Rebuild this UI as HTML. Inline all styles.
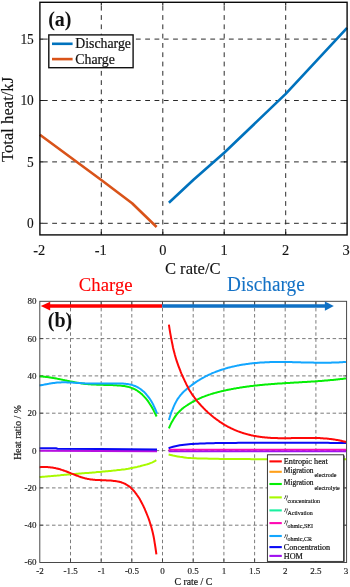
<!DOCTYPE html>
<html><head><meta charset="utf-8"><title>Heat figure</title>
<style>
html,body{margin:0;padding:0;background:#fff;}
body{width:350px;height:587px;overflow:hidden;}
svg{display:block;}
text{font-family:"Liberation Serif","Times New Roman",serif;}
.t14{font-size:14.4px;fill:#111;stroke:#111;stroke-width:0.12px;}
.t16{font-size:16.6px;fill:#111;stroke:#111;stroke-width:0.12px;}
.t9{font-size:9px;fill:#1a1a1a;stroke:#1a1a1a;stroke-width:0.15px;}
.t8{font-size:8.2px;fill:#111;stroke:#111;stroke-width:0.2px;}
.t6{font-size:6px;fill:#111;stroke:#111;stroke-width:0.15px;}
</style></head><body>
<svg width="350" height="587" viewBox="0 0 350 587">
<rect width="350" height="587" fill="#fff"/>

<g fill="none" stroke="#2a2a2a" stroke-width="1" stroke-dasharray="4.8 4.5" stroke-dashoffset="-3">
<path d="M101.3 2.8 V234.9"/>
<path d="M162.8 2.8 V234.9"/>
<path d="M224.2 2.8 V234.9"/>
<path d="M285.7 2.8 V234.9"/>
<path d="M39.9 223.3 H347.1"/>
<path d="M39.9 161.9 H347.1"/>
<path d="M39.9 100.5 H347.1"/>
<path d="M39.9 39.1 H347.1"/>
</g>
<g fill="none" stroke="#1a1a1a" stroke-width="1.1">
<path d="M101.3 2.3 v3.2 M101.3 234.9 v-3.2"/>
<path d="M162.8 2.3 v3.2 M162.8 234.9 v-3.2"/>
<path d="M224.2 2.3 v3.2 M224.2 234.9 v-3.2"/>
<path d="M285.7 2.3 v3.2 M285.7 234.9 v-3.2"/>
<path d="M39.9 223.3 h3.2 M347.1 223.3 h-3.2"/>
<path d="M39.9 161.9 h3.2 M347.1 161.9 h-3.2"/>
<path d="M39.9 100.5 h3.2 M347.1 100.5 h-3.2"/>
<path d="M39.9 39.1 h3.2 M347.1 39.1 h-3.2"/>
</g>
<path d="M168.9 202.8 L193.5 179.7 L224.2 152.8 L285.7 93.9 L347.1 27.8" fill="none" stroke="#0072BD" stroke-width="2.6" stroke-linejoin="round"/>
<path d="M39.9 134.8 L101.3 180.0 L132.1 203.2 L156.6 227.0" fill="none" stroke="#D95319" stroke-width="2.6" stroke-linejoin="round"/>
<rect x="39.9" y="2.3" width="307.2" height="232.6" fill="none" stroke="#0a0a0a" stroke-width="1.4"/>
<text class="t14" x="33.8" y="228.1" textLength="6.7" lengthAdjust="spacingAndGlyphs" text-anchor="end">0</text>
<text class="t14" x="33.8" y="166.7" textLength="6.7" lengthAdjust="spacingAndGlyphs" text-anchor="end">5</text>
<text class="t14" x="33.8" y="105.3" textLength="13.4" lengthAdjust="spacingAndGlyphs" text-anchor="end">10</text>
<text class="t14" x="33.8" y="43.9" textLength="13.4" lengthAdjust="spacingAndGlyphs" text-anchor="end">15</text>
<text class="t14" x="39.3" y="255" text-anchor="middle">-2</text>
<text class="t14" x="100.7" y="255" text-anchor="middle">-1</text>
<text class="t14" x="162.8" y="255" text-anchor="middle">0</text>
<text class="t14" x="224.2" y="255" text-anchor="middle">1</text>
<text class="t14" x="285.7" y="255" text-anchor="middle">2</text>
<text class="t14" x="346.1" y="255" text-anchor="middle">3</text>
<text class="t16" x="192.8" y="274.2" text-anchor="middle">C rate/C</text>
<text class="t16" transform="translate(13.2 119.4) rotate(-90)" text-anchor="middle">Total heat/kJ</text>
<text x="48.2" y="26.2" style="font-size:20px;font-weight:bold;fill:#111;">(a)</text>
<rect x="48.8" y="34.9" width="84.3" height="32.8" fill="#fff" stroke="#111" stroke-width="1.4"/>
<path d="M52 43.8 H72.6" stroke="#0072BD" stroke-width="2.6"/>
<path d="M52 59.1 H72.6" stroke="#D95319" stroke-width="2.6"/>
<text x="75.3" y="48.4" style="font-size:13.8px;fill:#111;stroke:#111;stroke-width:0.2px;">Discharge</text>
<text x="75.3" y="63.7" style="font-size:13.8px;fill:#111;stroke:#111;stroke-width:0.2px;">Charge</text>
<text x="78.8" y="291.3" textLength="53.8" lengthAdjust="spacingAndGlyphs" style="font-size:19.8px;fill:#ff0000;stroke:#ff0000;stroke-width:0.1px;">Charge</text>
<text x="227.1" y="291.2" textLength="77.6" lengthAdjust="spacingAndGlyphs" style="font-size:20px;fill:#1472c6;stroke:#1472c6;stroke-width:0.1px;">Discharge</text>
<g fill="none" stroke="#505050" stroke-width="0.75" stroke-dasharray="3.5 2.6">
<path d="M70.5 301.8 V562.5"/>
<path d="M101.2 301.8 V562.5"/>
<path d="M131.8 301.8 V562.5"/>
<path d="M162.5 301.8 V562.5"/>
<path d="M193.2 301.8 V562.5"/>
<path d="M223.9 301.8 V562.5"/>
<path d="M254.6 301.8 V562.5"/>
<path d="M285.2 301.8 V562.5"/>
<path d="M315.9 301.8 V562.5"/>
<path d="M39.8 525.2 H346.6"/>
<path d="M39.8 487.9 H346.6"/>
<path d="M39.8 450.6 H346.6"/>
<path d="M39.8 413.2 H346.6"/>
<path d="M39.8 375.9 H346.6"/>
<path d="M39.8 338.6 H346.6"/>
</g>
<g fill="none" stroke="#333" stroke-width="0.8">
<path d="M70.5 301.3 v3.5 M70.5 562.5 v-3.5"/>
<path d="M101.2 301.3 v3.5 M101.2 562.5 v-3.5"/>
<path d="M131.8 301.3 v3.5 M131.8 562.5 v-3.5"/>
<path d="M162.5 301.3 v3.5 M162.5 562.5 v-3.5"/>
<path d="M193.2 301.3 v3.5 M193.2 562.5 v-3.5"/>
<path d="M223.9 301.3 v3.5 M223.9 562.5 v-3.5"/>
<path d="M254.6 301.3 v3.5 M254.6 562.5 v-3.5"/>
<path d="M285.2 301.3 v3.5 M285.2 562.5 v-3.5"/>
<path d="M315.9 301.3 v3.5 M315.9 562.5 v-3.5"/>
<path d="M39.8 525.2 h3.5 M346.6 525.2 h-3.5"/>
<path d="M39.8 487.9 h3.5 M346.6 487.9 h-3.5"/>
<path d="M39.8 450.6 h3.5 M346.6 450.6 h-3.5"/>
<path d="M39.8 413.2 h3.5 M346.6 413.2 h-3.5"/>
<path d="M39.8 375.9 h3.5 M346.6 375.9 h-3.5"/>
<path d="M39.8 338.6 h3.5 M346.6 338.6 h-3.5"/>
</g>
<path d="M39.5 376.4 L40.3 376.4 L41.1 376.5 L41.9 376.5 L42.6 376.6 L43.4 376.7 L44.2 376.7 L45.0 376.8 L45.8 376.9 L46.6 377.0 L47.4 377.1 L48.1 377.2 L48.9 377.3 L49.7 377.4 L50.5 377.5 L51.3 377.7 L52.1 377.8 L52.9 377.9 L53.6 378.1 L54.4 378.2 L55.2 378.3 L56.0 378.5 L56.8 378.6 L57.6 378.8 L58.4 378.9 L59.1 379.1 L59.9 379.2 L60.7 379.4 L61.5 379.6 L62.3 379.7 L63.1 379.9 L63.9 380.1 L64.6 380.2 L65.4 380.4 L66.2 380.5 L67.0 380.7 L67.8 380.9 L68.6 381.0 L69.4 381.2 L70.2 381.4 L70.9 381.5 L71.7 381.7 L72.5 381.8 L73.3 382.0 L74.1 382.1 L74.9 382.3 L75.7 382.4 L76.4 382.6 L77.2 382.7 L78.0 382.8 L78.8 383.0 L79.6 383.1 L80.4 383.2 L81.2 383.3 L81.9 383.5 L82.7 383.6 L83.5 383.7 L84.3 383.8 L85.1 383.9 L85.9 383.9 L86.7 384.0 L87.4 384.1 L88.2 384.2 L89.0 384.2 L89.8 384.3 L90.6 384.3 L91.4 384.4 L92.2 384.4 L92.9 384.5 L93.7 384.5 L94.5 384.6 L95.3 384.6 L96.1 384.6 L96.9 384.7 L97.7 384.7 L98.4 384.7 L99.2 384.7 L100.0 384.8 L100.8 384.8 L101.6 384.8 L102.4 384.8 L103.2 384.8 L103.9 384.9 L104.7 384.9 L105.5 384.9 L106.3 384.9 L107.1 384.9 L107.9 385.0 L108.7 385.0 L109.4 385.0 L110.2 385.0 L111.0 385.1 L111.8 385.1 L112.6 385.1 L113.4 385.2 L114.2 385.2 L114.9 385.2 L115.7 385.3 L116.5 385.3 L117.3 385.4 L118.1 385.4 L118.9 385.5 L119.7 385.6 L120.4 385.6 L121.2 385.7 L122.0 385.8 L122.8 385.9 L123.6 386.0 L124.4 386.1 L125.2 386.2 L125.9 386.4 L126.7 386.5 L127.5 386.7 L128.3 386.9 L129.1 387.1 L129.9 387.3 L130.7 387.6 L131.5 387.9 L132.2 388.2 L133.0 388.5 L133.8 388.8 L134.6 389.2 L135.4 389.6 L136.2 390.0 L137.0 390.5 L137.7 391.0 L138.5 391.6 L139.3 392.1 L140.1 392.7 L140.9 393.4 L141.7 394.1 L142.5 394.8 L143.2 395.6 L144.0 396.4 L144.8 397.3 L145.6 398.2 L146.4 399.1 L147.2 400.1 L148.0 401.2 L148.7 402.3 L149.5 403.5 L150.3 404.7 L151.1 405.9 L151.9 407.3 L152.7 408.7 L153.5 410.1 L154.2 411.6 L155.0 413.2 L155.8 414.8 L156.6 416.5" fill="none" stroke="#05ee05" stroke-width="2.0" stroke-linecap="butt" stroke-linejoin="round"/>
<path d="M168.9 428.3 L169.6 426.7 L170.3 425.1 L171.0 423.6 L171.7 422.3 L172.5 420.9 L173.2 419.7 L173.9 418.5 L174.6 417.4 L175.3 416.4 L176.0 415.4 L176.7 414.4 L177.4 413.6 L178.1 412.7 L178.9 412.0 L179.6 411.2 L180.3 410.5 L181.0 409.9 L181.7 409.2 L182.4 408.6 L183.1 408.1 L183.8 407.5 L184.5 407.0 L185.3 406.5 L186.0 406.0 L186.7 405.5 L187.4 405.1 L188.1 404.6 L188.8 404.2 L189.5 403.7 L190.2 403.3 L190.9 402.9 L191.7 402.4 L192.4 402.0 L193.1 401.6 L193.8 401.3 L194.5 400.9 L195.2 400.5 L195.9 400.2 L196.6 399.8 L197.3 399.4 L198.1 399.1 L198.8 398.8 L199.5 398.5 L200.2 398.1 L200.9 397.8 L201.6 397.5 L202.3 397.2 L203.0 396.9 L203.8 396.7 L204.5 396.4 L205.2 396.1 L205.9 395.8 L206.6 395.6 L207.3 395.3 L208.0 395.1 L208.7 394.8 L209.4 394.6 L210.2 394.4 L210.9 394.1 L211.6 393.9 L212.3 393.7 L213.0 393.5 L213.7 393.3 L214.4 393.1 L215.1 392.9 L215.8 392.7 L216.6 392.5 L217.3 392.3 L218.0 392.1 L218.7 391.9 L219.4 391.8 L220.1 391.6 L220.8 391.4 L221.5 391.2 L222.2 391.1 L223.0 390.9 L223.7 390.8 L224.4 390.6 L225.1 390.4 L225.8 390.3 L226.5 390.1 L227.2 390.0 L227.9 389.8 L228.6 389.7 L229.4 389.5 L230.1 389.4 L230.8 389.3 L231.5 389.1 L232.2 389.0 L232.9 388.9 L233.6 388.7 L234.3 388.6 L235.0 388.5 L235.8 388.4 L236.5 388.2 L237.2 388.1 L237.9 388.0 L238.6 387.9 L239.3 387.8 L240.0 387.6 L240.7 387.5 L241.4 387.4 L242.2 387.3 L242.9 387.2 L243.6 387.1 L244.3 387.0 L245.0 386.9 L245.7 386.8 L246.4 386.7 L247.1 386.6 L247.8 386.5 L248.6 386.4 L249.3 386.3 L250.0 386.2 L250.7 386.1 L251.4 386.1 L252.1 386.0 L252.8 385.9 L253.5 385.8 L254.2 385.7 L255.0 385.6 L255.7 385.6 L256.4 385.5 L257.1 385.4 L257.8 385.3 L258.5 385.3 L259.2 385.2 L259.9 385.1 L260.7 385.0 L261.4 385.0 L262.1 384.9 L262.8 384.8 L263.5 384.8 L264.2 384.7 L264.9 384.6 L265.6 384.6 L266.3 384.5 L267.1 384.5 L267.8 384.4 L268.5 384.3 L269.2 384.3 L269.9 384.2 L270.6 384.2 L271.3 384.1 L272.0 384.0 L272.7 384.0 L273.5 383.9 L274.2 383.9 L274.9 383.8 L275.6 383.8 L276.3 383.7 L277.0 383.7 L277.7 383.6 L278.4 383.6 L279.1 383.5 L279.9 383.5 L280.6 383.4 L281.3 383.4 L282.0 383.4 L282.7 383.3 L283.4 383.3 L284.1 383.2 L284.8 383.2 L285.5 383.1 L286.3 383.1 L287.0 383.0 L287.7 383.0 L288.4 383.0 L289.1 382.9 L289.8 382.9 L290.5 382.8 L291.2 382.8 L291.9 382.7 L292.7 382.7 L293.4 382.7 L294.1 382.6 L294.8 382.6 L295.5 382.5 L296.2 382.5 L296.9 382.5 L297.6 382.4 L298.3 382.4 L299.1 382.3 L299.8 382.3 L300.5 382.3 L301.2 382.2 L301.9 382.2 L302.6 382.1 L303.3 382.1 L304.0 382.0 L304.7 382.0 L305.5 382.0 L306.2 381.9 L306.9 381.9 L307.6 381.8 L308.3 381.8 L309.0 381.7 L309.7 381.7 L310.4 381.7 L311.1 381.6 L311.9 381.6 L312.6 381.5 L313.3 381.5 L314.0 381.4 L314.7 381.4 L315.4 381.3 L316.1 381.3 L316.8 381.2 L317.6 381.2 L318.3 381.1 L319.0 381.1 L319.7 381.0 L320.4 381.0 L321.1 380.9 L321.8 380.9 L322.5 380.8 L323.2 380.8 L324.0 380.7 L324.7 380.6 L325.4 380.6 L326.1 380.5 L326.8 380.5 L327.5 380.4 L328.2 380.3 L328.9 380.3 L329.6 380.2 L330.4 380.1 L331.1 380.1 L331.8 380.0 L332.5 379.9 L333.2 379.9 L333.9 379.8 L334.6 379.7 L335.3 379.7 L336.0 379.6 L336.8 379.5 L337.5 379.4 L338.2 379.3 L338.9 379.3 L339.6 379.2 L340.3 379.1 L341.0 379.0 L341.7 378.9 L342.4 378.9 L343.2 378.8 L343.9 378.7 L344.6 378.6 L345.3 378.5 L346.0 378.4" fill="none" stroke="#05ee05" stroke-width="2.0" stroke-linecap="butt" stroke-linejoin="round"/>
<path d="M39.5 477.0 L41.0 476.9 L42.5 476.8 L43.9 476.7 L45.4 476.6 L46.9 476.4 L48.4 476.3 L49.8 476.2 L51.3 476.1 L52.8 475.9 L54.3 475.8 L55.8 475.7 L57.2 475.6 L58.7 475.4 L60.2 475.3 L61.7 475.1 L63.2 475.0 L64.6 474.8 L66.1 474.7 L67.6 474.5 L69.1 474.4 L70.5 474.2 L72.0 474.1 L73.5 474.0 L75.0 473.9 L76.5 473.8 L77.9 473.7 L79.4 473.6 L80.9 473.5 L82.4 473.3 L83.9 473.2 L85.3 473.1 L86.8 473.0 L88.3 472.9 L89.8 472.8 L91.2 472.7 L92.7 472.5 L94.2 472.4 L95.7 472.3 L97.2 472.1 L98.6 472.0 L100.1 471.9 L101.6 471.7 L103.1 471.6 L104.6 471.5 L106.0 471.3 L107.5 471.2 L109.0 471.0 L110.5 470.9 L111.9 470.7 L113.4 470.6 L114.9 470.4 L116.4 470.3 L117.9 470.1 L119.3 469.9 L120.8 469.8 L122.3 469.6 L123.8 469.4 L125.3 469.2 L126.7 468.9 L128.2 468.7 L129.7 468.4 L131.2 468.1 L132.6 467.9 L134.1 467.5 L135.6 467.2 L137.1 466.9 L138.6 466.5 L140.0 466.2 L141.5 465.8 L143.0 465.4 L144.5 465.0 L146.0 464.6 L147.4 464.2 L148.9 463.7 L150.4 463.1 L151.9 462.6 L153.3 461.9 L154.8 461.1 L156.3 460.2" fill="none" stroke="#a8fa00" stroke-width="2.0" stroke-linecap="butt" stroke-linejoin="round"/>
<path d="M168.6 454.6 L170.8 455.1 L173.1 455.6 L175.3 456.0 L177.6 456.4 L179.8 456.8 L182.1 457.1 L184.3 457.4 L186.6 457.7 L188.8 457.9 L191.1 458.1 L193.3 458.2 L195.5 458.3 L197.8 458.4 L200.0 458.5 L202.3 458.5 L204.5 458.6 L206.8 458.6 L209.0 458.7 L211.3 458.7 L213.5 458.8 L215.8 458.8 L218.0 458.8 L220.2 458.9 L222.5 458.9 L224.7 458.9 L227.0 458.9 L229.2 459.0 L231.5 459.0 L233.7 459.0 L236.0 459.0 L238.2 459.0 L240.5 459.1 L242.7 459.1 L244.9 459.1 L247.2 459.1 L249.4 459.1 L251.7 459.2 L253.9 459.2 L256.2 459.2 L258.4 459.2 L260.7 459.2 L262.9 459.2 L265.2 459.2 L267.4 459.2 L269.7 459.2 L271.9 459.2 L274.1 459.2 L276.4 459.2 L278.6 459.2 L280.9 459.2 L283.1 459.2 L285.4 459.2 L287.6 459.2 L289.9 459.2 L292.1 459.2 L294.4 459.2 L296.6 459.2 L298.8 459.2 L301.1 459.2 L303.3 459.2 L305.6 459.2 L307.8 459.2 L310.1 459.2 L312.3 459.2 L314.6 459.2 L316.8 459.2 L319.1 459.2 L321.3 459.2 L323.5 459.2 L325.8 459.2 L328.0 459.2 L330.3 459.2 L332.5 459.2 L334.8 459.2 L337.0 459.2 L339.3 459.2 L341.5 459.2 L343.8 459.2 L346.0 459.2" fill="none" stroke="#a8fa00" stroke-width="2.0" stroke-linecap="butt" stroke-linejoin="round"/>
<path d="M39.5 450.7 L157 451.1" stroke="#b810e0" stroke-width="2.1" fill="none"/>
<path d="M168.6 449.7 H346" stroke="#ff08b4" stroke-width="1.9" fill="none"/>
<path d="M168.6 451.4 H346" stroke="#a010f0" stroke-width="1.8" fill="none"/>
<path d="M39.5 448.2 L56.0 448.2 L57.5 448.8 L100.0 449.0 L157.0 449.5" stroke="#0a0af5" stroke-width="2.0" fill="none"/>
<path d="M168.6 448.2 L170.8 447.4 L173.1 446.7 L175.3 446.2 L177.6 445.7 L179.8 445.3 L182.1 445.0 L184.3 444.7 L186.6 444.4 L188.8 444.2 L191.1 444.0 L193.3 443.9 L195.5 443.8 L197.8 443.7 L200.0 443.6 L202.3 443.5 L204.5 443.4 L206.8 443.3 L209.0 443.3 L211.3 443.2 L213.5 443.2 L215.8 443.1 L218.0 443.1 L220.2 443.1 L222.5 443.0 L224.7 443.0 L227.0 443.0 L229.2 442.9 L231.5 442.9 L233.7 442.9 L236.0 442.9 L238.2 442.8 L240.5 442.8 L242.7 442.8 L244.9 442.8 L247.2 442.8 L249.4 442.7 L251.7 442.7 L253.9 442.7 L256.2 442.7 L258.4 442.7 L260.7 442.7 L262.9 442.7 L265.2 442.7 L267.4 442.7 L269.7 442.7 L271.9 442.7 L274.1 442.7 L276.4 442.7 L278.6 442.7 L280.9 442.7 L283.1 442.7 L285.4 442.7 L287.6 442.7 L289.9 442.7 L292.1 442.7 L294.4 442.7 L296.6 442.7 L298.8 442.7 L301.1 442.7 L303.3 442.7 L305.6 442.7 L307.8 442.8 L310.1 442.8 L312.3 442.8 L314.6 442.8 L316.8 442.8 L319.1 442.8 L321.3 442.8 L323.5 442.8 L325.8 442.8 L328.0 442.8 L330.3 442.9 L332.5 442.9 L334.8 442.9 L337.0 442.9 L339.3 442.9 L341.5 443.0 L343.8 443.0 L346.0 443.0" fill="none" stroke="#0a0af5" stroke-width="2.0" stroke-linecap="butt" stroke-linejoin="round"/>
<path d="M39.5 385.4 L40.3 385.3 L41.1 385.2 L41.9 385.0 L42.7 384.9 L43.4 384.8 L44.2 384.6 L45.0 384.5 L45.8 384.3 L46.6 384.2 L47.4 384.0 L48.2 383.9 L49.0 383.7 L49.8 383.6 L50.5 383.5 L51.3 383.3 L52.1 383.2 L52.9 383.1 L53.7 383.0 L54.5 382.9 L55.3 382.8 L56.1 382.7 L56.8 382.6 L57.6 382.5 L58.4 382.5 L59.2 382.4 L60.0 382.4 L60.8 382.4 L61.6 382.3 L62.4 382.3 L63.2 382.3 L63.9 382.3 L64.7 382.3 L65.5 382.3 L66.3 382.3 L67.1 382.4 L67.9 382.4 L68.7 382.4 L69.5 382.4 L70.3 382.5 L71.0 382.5 L71.8 382.6 L72.6 382.6 L73.4 382.7 L74.2 382.7 L75.0 382.8 L75.8 382.8 L76.6 382.9 L77.4 382.9 L78.1 383.0 L78.9 383.0 L79.7 383.1 L80.5 383.1 L81.3 383.2 L82.1 383.2 L82.9 383.3 L83.7 383.3 L84.4 383.3 L85.2 383.4 L86.0 383.4 L86.8 383.4 L87.6 383.5 L88.4 383.5 L89.2 383.5 L90.0 383.5 L90.8 383.5 L91.5 383.6 L92.3 383.6 L93.1 383.6 L93.9 383.6 L94.7 383.6 L95.5 383.6 L96.3 383.6 L97.1 383.6 L97.9 383.6 L98.6 383.6 L99.4 383.6 L100.2 383.6 L101.0 383.5 L101.8 383.5 L102.6 383.5 L103.4 383.5 L104.2 383.5 L105.0 383.5 L105.7 383.5 L106.5 383.5 L107.3 383.5 L108.1 383.5 L108.9 383.5 L109.7 383.4 L110.5 383.4 L111.3 383.4 L112.1 383.4 L112.8 383.4 L113.6 383.4 L114.4 383.4 L115.2 383.4 L116.0 383.4 L116.8 383.5 L117.6 383.5 L118.4 383.5 L119.1 383.5 L119.9 383.5 L120.7 383.5 L121.5 383.6 L122.3 383.6 L123.1 383.6 L123.9 383.7 L124.7 383.7 L125.5 383.8 L126.2 383.9 L127.0 384.0 L127.8 384.1 L128.6 384.2 L129.4 384.4 L130.2 384.5 L131.0 384.7 L131.8 384.9 L132.6 385.1 L133.3 385.4 L134.1 385.7 L134.9 386.0 L135.7 386.3 L136.5 386.7 L137.3 387.1 L138.1 387.5 L138.9 388.0 L139.7 388.5 L140.4 389.0 L141.2 389.6 L142.0 390.2 L142.8 390.9 L143.6 391.6 L144.4 392.3 L145.2 393.1 L146.0 394.0 L146.7 394.9 L147.5 395.8 L148.3 396.8 L149.1 397.9 L149.9 399.0 L150.7 400.2 L151.5 401.5 L152.3 402.9 L153.1 404.4 L153.8 406.0 L154.6 407.7 L155.4 409.5 L156.2 411.4 L157.0 413.5" fill="none" stroke="#12a6ff" stroke-width="2.0" stroke-linecap="butt" stroke-linejoin="round"/>
<path d="M168.9 420.0 L169.6 417.7 L170.3 415.4 L171.0 413.4 L171.7 411.4 L172.5 409.6 L173.2 407.8 L173.9 406.2 L174.6 404.7 L175.3 403.2 L176.0 401.9 L176.7 400.6 L177.4 399.4 L178.1 398.3 L178.9 397.3 L179.6 396.3 L180.3 395.4 L181.0 394.6 L181.7 393.8 L182.4 393.0 L183.1 392.3 L183.8 391.6 L184.5 390.9 L185.3 390.3 L186.0 389.7 L186.7 389.1 L187.4 388.5 L188.1 387.9 L188.8 387.3 L189.5 386.8 L190.2 386.2 L190.9 385.7 L191.7 385.1 L192.4 384.6 L193.1 384.1 L193.8 383.6 L194.5 383.1 L195.2 382.6 L195.9 382.1 L196.6 381.6 L197.3 381.2 L198.1 380.7 L198.8 380.3 L199.5 379.8 L200.2 379.4 L200.9 379.0 L201.6 378.6 L202.3 378.2 L203.0 377.8 L203.8 377.4 L204.5 377.0 L205.2 376.6 L205.9 376.2 L206.6 375.9 L207.3 375.5 L208.0 375.2 L208.7 374.8 L209.4 374.5 L210.2 374.2 L210.9 373.9 L211.6 373.5 L212.3 373.2 L213.0 372.9 L213.7 372.6 L214.4 372.4 L215.1 372.1 L215.8 371.8 L216.6 371.5 L217.3 371.3 L218.0 371.0 L218.7 370.7 L219.4 370.5 L220.1 370.2 L220.8 370.0 L221.5 369.8 L222.2 369.5 L223.0 369.3 L223.7 369.1 L224.4 368.9 L225.1 368.7 L225.8 368.4 L226.5 368.2 L227.2 368.0 L227.9 367.8 L228.6 367.6 L229.4 367.5 L230.1 367.3 L230.8 367.1 L231.5 366.9 L232.2 366.7 L232.9 366.6 L233.6 366.4 L234.3 366.3 L235.0 366.1 L235.8 365.9 L236.5 365.8 L237.2 365.6 L237.9 365.5 L238.6 365.4 L239.3 365.2 L240.0 365.1 L240.7 365.0 L241.4 364.8 L242.2 364.7 L242.9 364.6 L243.6 364.5 L244.3 364.4 L245.0 364.3 L245.7 364.2 L246.4 364.1 L247.1 364.0 L247.8 363.9 L248.6 363.8 L249.3 363.7 L250.0 363.6 L250.7 363.5 L251.4 363.4 L252.1 363.3 L252.8 363.3 L253.5 363.2 L254.2 363.1 L255.0 363.0 L255.7 363.0 L256.4 362.9 L257.1 362.9 L257.8 362.8 L258.5 362.7 L259.2 362.7 L259.9 362.6 L260.7 362.6 L261.4 362.5 L262.1 362.5 L262.8 362.5 L263.5 362.4 L264.2 362.4 L264.9 362.3 L265.6 362.3 L266.3 362.3 L267.1 362.2 L267.8 362.2 L268.5 362.2 L269.2 362.2 L269.9 362.1 L270.6 362.1 L271.3 362.1 L272.0 362.1 L272.7 362.1 L273.5 362.1 L274.2 362.0 L274.9 362.0 L275.6 362.0 L276.3 362.0 L277.0 362.0 L277.7 362.0 L278.4 362.0 L279.1 362.0 L279.9 362.0 L280.6 362.0 L281.3 362.0 L282.0 362.0 L282.7 362.0 L283.4 362.0 L284.1 362.0 L284.8 362.0 L285.5 362.0 L286.3 362.0 L287.0 362.1 L287.7 362.1 L288.4 362.1 L289.1 362.1 L289.8 362.1 L290.5 362.1 L291.2 362.1 L291.9 362.1 L292.7 362.2 L293.4 362.2 L294.1 362.2 L294.8 362.2 L295.5 362.2 L296.2 362.2 L296.9 362.3 L297.6 362.3 L298.3 362.3 L299.1 362.3 L299.8 362.3 L300.5 362.3 L301.2 362.4 L301.9 362.4 L302.6 362.4 L303.3 362.4 L304.0 362.4 L304.7 362.4 L305.5 362.5 L306.2 362.5 L306.9 362.5 L307.6 362.5 L308.3 362.5 L309.0 362.6 L309.7 362.6 L310.4 362.6 L311.1 362.6 L311.9 362.6 L312.6 362.6 L313.3 362.6 L314.0 362.7 L314.7 362.7 L315.4 362.7 L316.1 362.7 L316.8 362.7 L317.6 362.7 L318.3 362.7 L319.0 362.7 L319.7 362.7 L320.4 362.7 L321.1 362.7 L321.8 362.7 L322.5 362.7 L323.2 362.7 L324.0 362.7 L324.7 362.7 L325.4 362.7 L326.1 362.7 L326.8 362.7 L327.5 362.7 L328.2 362.7 L328.9 362.7 L329.6 362.7 L330.4 362.7 L331.1 362.7 L331.8 362.6 L332.5 362.6 L333.2 362.6 L333.9 362.6 L334.6 362.6 L335.3 362.5 L336.0 362.5 L336.8 362.5 L337.5 362.4 L338.2 362.4 L338.9 362.4 L339.6 362.3 L340.3 362.3 L341.0 362.3 L341.7 362.2 L342.4 362.2 L343.2 362.1 L343.9 362.1 L344.6 362.0 L345.3 362.0 L346.0 361.9" fill="none" stroke="#12a6ff" stroke-width="2.0" stroke-linecap="butt" stroke-linejoin="round"/>
<path d="M39.5 467.2 L40.1 467.2 L40.7 467.1 L41.3 467.1 L41.8 467.1 L42.4 467.0 L43.0 467.0 L43.6 467.0 L44.2 467.0 L44.8 467.0 L45.4 467.0 L46.0 467.0 L46.5 467.1 L47.1 467.1 L47.7 467.1 L48.3 467.2 L48.9 467.2 L49.5 467.3 L50.1 467.3 L50.7 467.4 L51.2 467.5 L51.8 467.5 L52.4 467.6 L53.0 467.7 L53.6 467.8 L54.2 467.9 L54.8 468.0 L55.4 468.1 L55.9 468.3 L56.5 468.4 L57.1 468.5 L57.7 468.7 L58.3 468.8 L58.9 469.0 L59.5 469.1 L60.1 469.3 L60.6 469.5 L61.2 469.7 L61.8 469.9 L62.4 470.1 L63.0 470.3 L63.6 470.5 L64.2 470.7 L64.8 470.9 L65.3 471.1 L65.9 471.3 L66.5 471.5 L67.1 471.8 L67.7 472.0 L68.3 472.2 L68.9 472.5 L69.5 472.7 L70.0 472.9 L70.6 473.2 L71.2 473.4 L71.8 473.6 L72.4 473.9 L73.0 474.1 L73.6 474.3 L74.2 474.6 L74.7 474.8 L75.3 475.0 L75.9 475.3 L76.5 475.5 L77.1 475.7 L77.7 475.9 L78.3 476.1 L78.9 476.4 L79.4 476.6 L80.0 476.8 L80.6 477.0 L81.2 477.2 L81.8 477.4 L82.4 477.5 L83.0 477.7 L83.6 477.9 L84.1 478.1 L84.7 478.2 L85.3 478.4 L85.9 478.5 L86.5 478.6 L87.1 478.8 L87.7 478.9 L88.3 479.0 L88.8 479.1 L89.4 479.2 L90.0 479.3 L90.6 479.4 L91.2 479.5 L91.8 479.5 L92.4 479.6 L93.0 479.7 L93.5 479.7 L94.1 479.8 L94.7 479.8 L95.3 479.9 L95.9 479.9 L96.5 480.0 L97.1 480.0 L97.7 480.0 L98.2 480.1 L98.8 480.1 L99.4 480.1 L100.0 480.1 L100.6 480.2 L101.2 480.2 L101.8 480.2 L102.4 480.2 L102.9 480.2 L103.5 480.3 L104.1 480.3 L104.7 480.3 L105.3 480.3 L105.9 480.3 L106.5 480.4 L107.1 480.4 L107.6 480.4 L108.2 480.4 L108.8 480.5 L109.4 480.5 L110.0 480.5 L110.6 480.6 L111.2 480.6 L111.8 480.7 L112.3 480.7 L112.9 480.8 L113.5 480.9 L114.1 480.9 L114.7 481.0 L115.3 481.1 L115.9 481.2 L116.5 481.2 L117.0 481.3 L117.6 481.4 L118.2 481.6 L118.8 481.7 L119.4 481.8 L120.0 482.0 L120.6 482.1 L121.2 482.3 L121.7 482.5 L122.3 482.7 L122.9 482.9 L123.5 483.2 L124.1 483.4 L124.7 483.7 L125.3 484.0 L125.9 484.3 L126.4 484.6 L127.0 485.0 L127.6 485.4 L128.2 485.8 L128.8 486.2 L129.4 486.6 L130.0 487.1 L130.6 487.6 L131.1 488.1 L131.7 488.7 L132.3 489.3 L132.9 489.9 L133.5 490.5 L134.1 491.2 L134.7 491.9 L135.3 492.6 L135.8 493.3 L136.4 494.1 L137.0 495.0 L137.6 495.8 L138.2 496.7 L138.8 497.6 L139.4 498.6 L140.0 499.6 L140.5 500.6 L141.1 501.7 L141.7 502.8 L142.3 503.9 L142.9 505.1 L143.5 506.3 L144.1 507.6 L144.7 508.9 L145.2 510.2 L145.8 511.6 L146.4 513.0 L147.0 514.5 L147.6 516.0 L148.2 517.5 L148.8 519.1 L149.4 520.8 L149.9 522.5 L150.5 524.4 L151.1 526.3 L151.7 528.4 L152.3 530.8 L152.9 533.3 L153.5 536.0 L154.1 539.1 L154.6 542.4 L155.2 546.0 L155.8 550.0 L156.4 554.4" fill="none" stroke="#ff0808" stroke-width="2.0" stroke-linecap="butt" stroke-linejoin="round"/>
<path d="M168.9 324.7 L169.5 328.6 L170.1 332.3 L170.7 335.7 L171.3 338.9 L171.9 342.0 L172.5 344.8 L173.0 347.5 L173.6 350.0 L174.2 352.3 L174.8 354.6 L175.4 356.7 L176.0 358.7 L176.6 360.6 L177.2 362.4 L177.8 364.2 L178.4 365.8 L179.0 367.4 L179.6 369.0 L180.2 370.4 L180.7 371.9 L181.3 373.3 L181.9 374.6 L182.5 376.0 L183.1 377.3 L183.7 378.6 L184.3 379.9 L184.9 381.2 L185.5 382.4 L186.1 383.7 L186.7 384.9 L187.3 386.0 L187.9 387.2 L188.4 388.3 L189.0 389.4 L189.6 390.4 L190.2 391.4 L190.8 392.3 L191.4 393.3 L192.0 394.2 L192.6 395.1 L193.2 395.9 L193.8 396.7 L194.4 397.5 L195.0 398.3 L195.6 399.1 L196.1 399.8 L196.7 400.5 L197.3 401.3 L197.9 402.0 L198.5 402.6 L199.1 403.3 L199.7 404.0 L200.3 404.7 L200.9 405.3 L201.5 406.0 L202.1 406.6 L202.7 407.2 L203.3 407.8 L203.8 408.4 L204.4 409.0 L205.0 409.6 L205.6 410.2 L206.2 410.7 L206.8 411.3 L207.4 411.9 L208.0 412.4 L208.6 412.9 L209.2 413.5 L209.8 414.0 L210.4 414.5 L211.0 415.0 L211.5 415.5 L212.1 416.0 L212.7 416.5 L213.3 417.0 L213.9 417.4 L214.5 417.9 L215.1 418.3 L215.7 418.8 L216.3 419.2 L216.9 419.7 L217.5 420.1 L218.1 420.5 L218.7 420.9 L219.2 421.4 L219.8 421.8 L220.4 422.2 L221.0 422.5 L221.6 422.9 L222.2 423.3 L222.8 423.7 L223.4 424.1 L224.0 424.4 L224.6 424.8 L225.2 425.1 L225.8 425.5 L226.4 425.8 L226.9 426.1 L227.5 426.4 L228.1 426.8 L228.7 427.1 L229.3 427.4 L229.9 427.7 L230.5 428.0 L231.1 428.3 L231.7 428.6 L232.3 428.8 L232.9 429.1 L233.5 429.4 L234.1 429.7 L234.6 429.9 L235.2 430.2 L235.8 430.4 L236.4 430.7 L237.0 430.9 L237.6 431.1 L238.2 431.4 L238.8 431.6 L239.4 431.8 L240.0 432.0 L240.6 432.2 L241.2 432.4 L241.8 432.6 L242.3 432.8 L242.9 433.0 L243.5 433.2 L244.1 433.4 L244.7 433.6 L245.3 433.7 L245.9 433.9 L246.5 434.1 L247.1 434.2 L247.7 434.4 L248.3 434.6 L248.9 434.7 L249.5 434.8 L250.0 435.0 L250.6 435.1 L251.2 435.3 L251.8 435.4 L252.4 435.5 L253.0 435.6 L253.6 435.8 L254.2 435.9 L254.8 436.0 L255.4 436.1 L256.0 436.2 L256.6 436.3 L257.2 436.4 L257.7 436.5 L258.3 436.6 L258.9 436.7 L259.5 436.8 L260.1 436.8 L260.7 436.9 L261.3 437.0 L261.9 437.1 L262.5 437.2 L263.1 437.2 L263.7 437.3 L264.3 437.3 L264.9 437.4 L265.4 437.5 L266.0 437.5 L266.6 437.6 L267.2 437.6 L267.8 437.7 L268.4 437.7 L269.0 437.8 L269.6 437.8 L270.2 437.8 L270.8 437.9 L271.4 437.9 L272.0 437.9 L272.6 438.0 L273.1 438.0 L273.7 438.0 L274.3 438.0 L274.9 438.1 L275.5 438.1 L276.1 438.1 L276.7 438.1 L277.3 438.1 L277.9 438.2 L278.5 438.2 L279.1 438.2 L279.7 438.2 L280.3 438.2 L280.8 438.2 L281.4 438.2 L282.0 438.2 L282.6 438.2 L283.2 438.2 L283.8 438.2 L284.4 438.2 L285.0 438.2 L285.6 438.2 L286.2 438.2 L286.8 438.2 L287.4 438.2 L288.0 438.2 L288.5 438.2 L289.1 438.2 L289.7 438.2 L290.3 438.2 L290.9 438.2 L291.5 438.1 L292.1 438.1 L292.7 438.1 L293.3 438.1 L293.9 438.1 L294.5 438.1 L295.1 438.1 L295.7 438.1 L296.2 438.1 L296.8 438.1 L297.4 438.0 L298.0 438.0 L298.6 438.0 L299.2 438.0 L299.8 438.0 L300.4 438.0 L301.0 438.0 L301.6 438.0 L302.2 438.0 L302.8 438.0 L303.4 437.9 L303.9 437.9 L304.5 437.9 L305.1 437.9 L305.7 437.9 L306.3 437.9 L306.9 437.9 L307.5 437.9 L308.1 437.9 L308.7 437.9 L309.3 437.9 L309.9 437.9 L310.5 437.9 L311.1 437.9 L311.6 437.9 L312.2 437.9 L312.8 437.9 L313.4 437.9 L314.0 438.0 L314.6 438.0 L315.2 438.0 L315.8 438.0 L316.4 438.0 L317.0 438.0 L317.6 438.0 L318.2 438.1 L318.8 438.1 L319.3 438.1 L319.9 438.1 L320.5 438.2 L321.1 438.2 L321.7 438.2 L322.3 438.3 L322.9 438.3 L323.5 438.4 L324.1 438.4 L324.7 438.4 L325.3 438.5 L325.9 438.5 L326.5 438.6 L327.0 438.6 L327.6 438.7 L328.2 438.8 L328.8 438.8 L329.4 438.9 L330.0 439.0 L330.6 439.0 L331.2 439.1 L331.8 439.2 L332.4 439.3 L333.0 439.3 L333.6 439.4 L334.2 439.5 L334.7 439.6 L335.3 439.7 L335.9 439.8 L336.5 439.9 L337.1 440.0 L337.7 440.1 L338.3 440.2 L338.9 440.3 L339.5 440.5 L340.1 440.6 L340.7 440.7 L341.3 440.8 L341.9 441.0 L342.4 441.1 L343.0 441.2 L343.6 441.4 L344.2 441.5 L344.8 441.7 L345.4 441.8 L346.0 442.0" fill="none" stroke="#ff0808" stroke-width="2.0" stroke-linecap="butt" stroke-linejoin="round"/>
<rect x="39.8" y="301.3" width="306.8" height="261.2" fill="none" stroke="#404040" stroke-width="0.95"/>
<path d="M49 306.1 H162.2" stroke="#ff0000" stroke-width="3.5" fill="none"/>
<path d="M40.8 306.1 L50.2 301.7 L50.2 310.5 Z" fill="#ff0000"/>
<path d="M162.2 306.1 H326" stroke="#0f70c4" stroke-width="3.5" fill="none"/>
<path d="M333.8 306.1 L324.9 301.5 L324.9 310.7 Z" fill="#0f70c4"/>
<text x="47.8" y="326.5" style="font-size:20px;font-weight:bold;fill:#111;">(b)</text>
<text class="t9" x="36.6" y="304.2" text-anchor="end">80</text>
<text class="t9" x="36.6" y="341.5" text-anchor="end">60</text>
<text class="t9" x="36.6" y="378.8" text-anchor="end">40</text>
<text class="t9" x="36.6" y="416.1" text-anchor="end">20</text>
<text class="t9" x="36.6" y="453.5" text-anchor="end">0</text>
<text class="t9" x="36.6" y="490.8" text-anchor="end">-20</text>
<text class="t9" x="36.6" y="528.1" text-anchor="end">-40</text>
<text class="t9" x="36.6" y="565.4" text-anchor="end">-60</text>
<text class="t9" x="40.0" y="574.2" text-anchor="middle">-2</text>
<text class="t9" x="70.7" y="574.2" text-anchor="middle">-1.5</text>
<text class="t9" x="101.4" y="574.2" text-anchor="middle">-1</text>
<text class="t9" x="132.0" y="574.2" text-anchor="middle">-0.5</text>
<text class="t9" x="162.5" y="574.2" text-anchor="middle">0</text>
<text class="t9" x="193.2" y="574.2" text-anchor="middle">0.5</text>
<text class="t9" x="223.9" y="574.2" text-anchor="middle">1</text>
<text class="t9" x="254.6" y="574.2" text-anchor="middle">1.5</text>
<text class="t9" x="285.2" y="574.2" text-anchor="middle">2</text>
<text class="t9" x="315.9" y="574.2" text-anchor="middle">2.5</text>
<text class="t9" x="346.1" y="574.2" text-anchor="middle">3</text>
<text x="193.4" y="585.4" text-anchor="middle" style="font-size:9.8px;fill:#1a1a1a;stroke:#1a1a1a;stroke-width:0.2px;">C rate / C</text>
<text transform="translate(20.7 432.4) rotate(-90)" text-anchor="middle" style="font-size:9.8px;fill:#1a1a1a;stroke:#1a1a1a;stroke-width:0.2px;">Heat ratio / %</text>
<rect x="267.4" y="454.8" width="76.2" height="106.6" fill="#fff" stroke="#222" stroke-width="0.9"/>
<path d="M344.3 455.5 V561.8" stroke="#333" stroke-width="0.8" fill="none"/>
<path d="M269.4 461.4 H281.8" stroke="#ff0808" stroke-width="2.1" fill="none"/>
<text class="t8" x="283.8" y="463.9">Entropic heat</text>
<path d="M269.4 471.8 H281.8" stroke="#ffa01a" stroke-width="2.1" fill="none"/>
<text class="t8" x="283.8" y="472.9" textLength="29.8" lengthAdjust="spacingAndGlyphs">Migration</text>
<text class="t6" x="314.4" y="477.2">electrode</text>
<path d="M269.4 484.0 H281.8" stroke="#05ee05" stroke-width="2.1" fill="none"/>
<text class="t8" x="283.8" y="485.4" textLength="29.8" lengthAdjust="spacingAndGlyphs">Migration</text>
<text class="t6" x="314.4" y="489.7">electrolyte</text>
<path d="M269.4 497.4 H281.8" stroke="#a8fa00" stroke-width="2.1" fill="none"/>
<text x="283.9" y="498.9" transform="translate(87.97 0) skewX(-10)" style="font-size:7.4px;font-style:italic;fill:#111;">η</text>
<text class="t6" x="287.4" y="502.5">concentration</text>
<path d="M269.4 510.4 H281.8" stroke="#1af0a0" stroke-width="2.1" fill="none"/>
<text x="283.9" y="511.7" transform="translate(90.23 0) skewX(-10)" style="font-size:7.4px;font-style:italic;fill:#111;">η</text>
<text class="t6" x="287.4" y="515.3">Activation</text>
<path d="M269.4 523.1 H281.8" stroke="#ff08b4" stroke-width="2.1" fill="none"/>
<text x="283.9" y="524.3" transform="translate(92.45 0) skewX(-10)" style="font-size:7.4px;font-style:italic;fill:#111;">η</text>
<text class="t6" x="287.4" y="527.9">ohmic,SEI</text>
<path d="M269.4 536.0 H281.8" stroke="#12a6ff" stroke-width="2.1" fill="none"/>
<text x="283.9" y="537.7" transform="translate(94.81 0) skewX(-10)" style="font-size:7.4px;font-style:italic;fill:#111;">η</text>
<text class="t6" x="287.4" y="541.3">ohmic,CR</text>
<path d="M269.4 547.1 H281.8" stroke="#0a0af5" stroke-width="2.1" fill="none"/>
<text class="t8" x="283.8" y="549.5">Concentration</text>
<path d="M269.4 555.9 H281.8" stroke="#a010f0" stroke-width="2.1" fill="none"/>
<text class="t8" x="283.8" y="558.5">HOM</text>
</svg></body></html>
